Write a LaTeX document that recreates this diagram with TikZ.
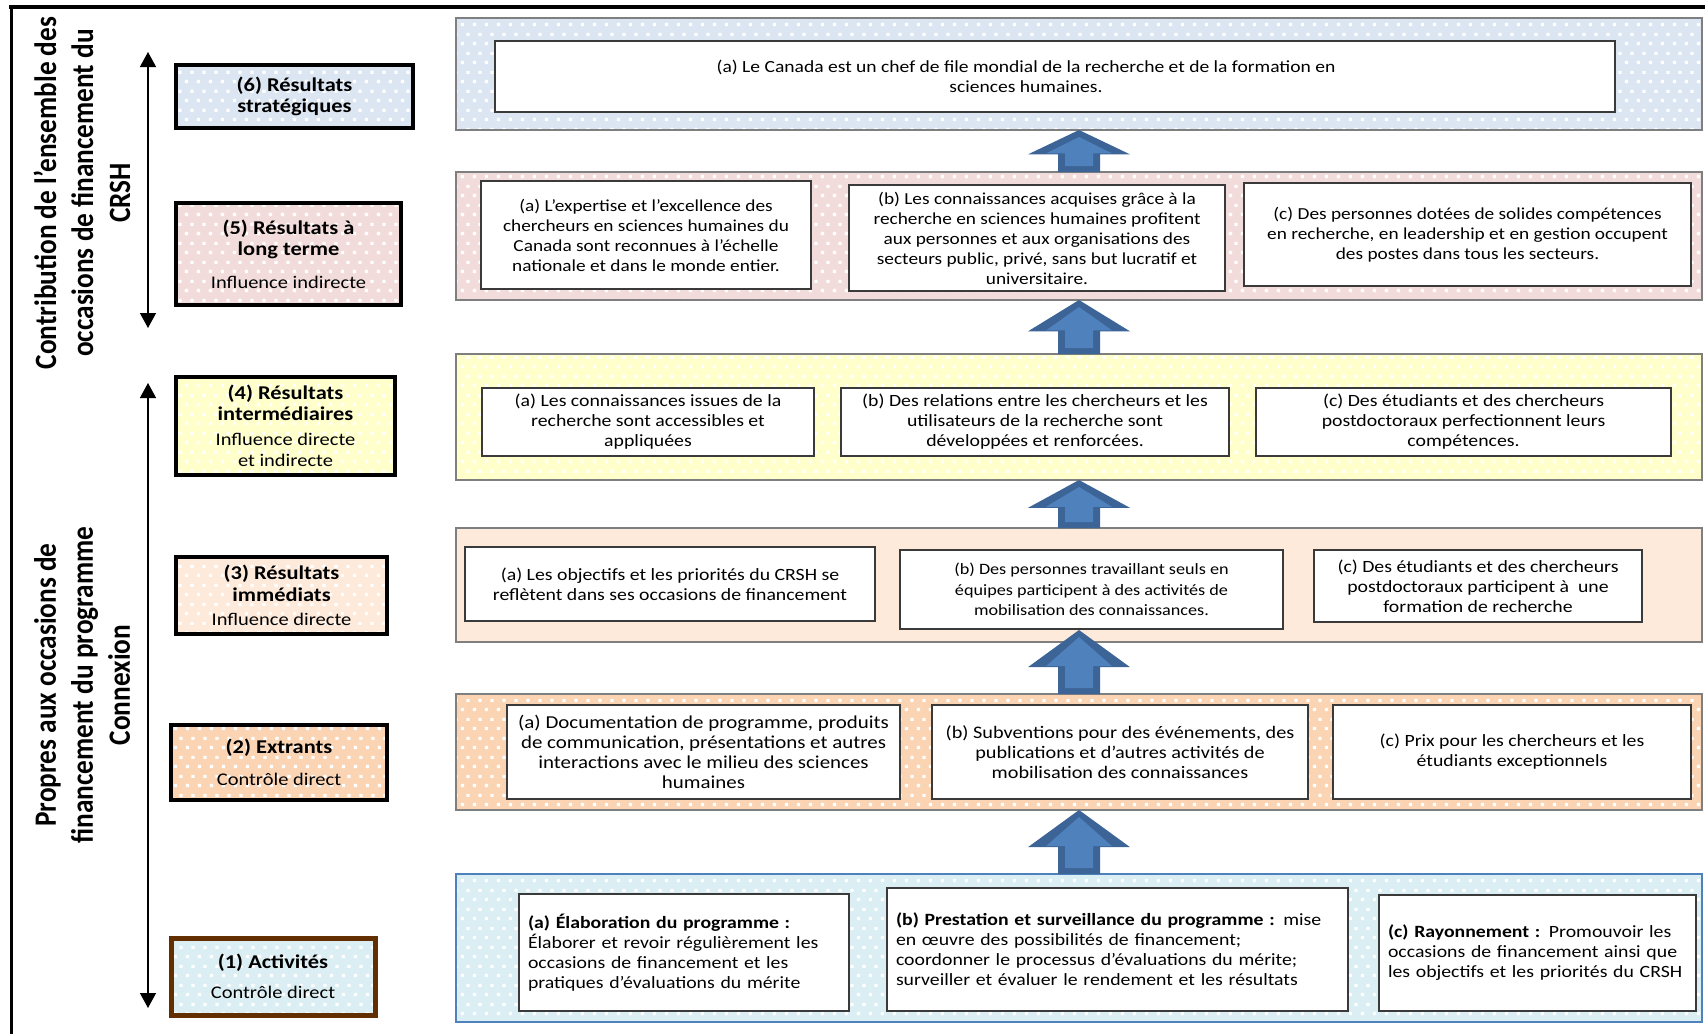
\documentclass[tikz,border=0pt]{standalone}
\usepackage{fontspec}
\setmainfont{Carlito}
\newfontfamily\wf{Carlito}[FakeStretch=1.15]
\newfontfamily\tf{Carlito}[FakeStretch=0.88]
\usetikzlibrary{calc,arrows.meta,patterns}

\pgfdeclarepatternformonly{sqdots}{\pgfpointorigin}{\pgfpoint{11.5pt}{19pt}}{\pgfpoint{11.5pt}{19pt}}{%
  \pgfpathrectangle{\pgfpoint{1pt}{1pt}}{\pgfpoint{3.3pt}{3.3pt}}%
  \pgfpathrectangle{\pgfpoint{6.75pt}{10.5pt}}{\pgfpoint{3.3pt}{3.3pt}}%
  \pgfusepath{fill}}

\definecolor{c6}{HTML}{DCE6F2}
\definecolor{c5}{HTML}{F2DCDB}
\definecolor{c4}{HTML}{FFFFCC}
\definecolor{c3}{HTML}{FDEADA}
\definecolor{c2}{HTML}{FBD4B4}
\definecolor{c1}{HTML}{DAEEF3}
\definecolor{bandline}{HTML}{7F7F7F}
\definecolor{actline}{HTML}{4F81BD}
\definecolor{brownline}{HTML}{632F00}
\definecolor{arrdark}{HTML}{3C6496}
\definecolor{arrlight}{HTML}{4F81BD}
\definecolor{boxline}{HTML}{3A3A3A}

\newcommand\blockarrow[3]{%
  \fill[arrdark] let \p1=(#1.north), \p2=(#2.south), \n1={\y2+#3pt-\y1}, \n2={\y1+0.42*\n1}, \n3={\y1+\n1} in
    (\x1-21pt,\y1) -- (\x1-21pt,\n2) -- (\x1-51pt,\n2) -- (\x1,\n3) -- (\x1+51pt,\n2) -- (\x1+21pt,\n2) -- (\x1+21pt,\y1) -- cycle;
  \fill[arrlight] let \p1=(#1.north), \p2=(#2.south), \n1={\y2+#3pt-\y1}, \n2={\y1+0.42*\n1}, \n3={\y1+\n1} in
    (\x1-14pt,\y1+6pt) -- (\x1-14pt,\n2+1pt) -- (\x1-33pt,\n2+1pt) -- (\x1,\n3-7pt) -- (\x1+33pt,\n2+1pt) -- (\x1+14pt,\n2+1pt) -- (\x1+14pt,\y1+6pt) -- cycle;
}

\tikzset{
  dotfill/.style={preaction={fill=#1}, preaction={pattern=sqdots, pattern color=white}},
  band/.style={draw=bandline, line width=1.3pt, inner sep=0pt, outer sep=0pt, anchor=north west, minimum width=1246pt},
  lbox/.style={draw=black, line width=4.5pt, inner sep=0pt, outer sep=0pt, anchor=north west, align=center,
               font=\wf\fontsize{19.5}{21.5}\selectfont},
  tbox/.style={draw=boxline, fill=white, line width=1.1pt, inner sep=0pt, outer sep=0pt, align=center,
               font=\wf\fontsize{17.2}{20}\selectfont},
  lbtext/.style={tbox, align=left},
  plaintext/.style={inner sep=0pt, align=center, font=\wf\fontsize{17}{19.6}\selectfont},
  vtitle/.style={rotate=90, align=center, font=\tf\bfseries\fontsize{31}{37}\selectfont},
  vaxis/.style={line width=1.3pt, {Triangle[width=16pt,length=15pt]}-{Triangle[width=16pt,length=15pt]}},
}
\newcommand\sm[1]{{\fontsize{17.8}{20}\selectfont #1}}

\begin{document}
\begin{tikzpicture}[x=1pt,y=-1pt]
\useasboundingbox (0,0) rectangle (1705,1034);

% frame
\draw[line width=4.5pt] (9,7) -- (1705,7);
\draw[line width=3pt] (11,5) -- (11,1034);

% vertical titles
\node[vtitle] (title1) at (82,193) {Contribution de l’ensemble des\\occasions de financement du\\CRSH};
\node[vtitle] (title2) at (82,685) {Propres aux occasions de\\financement du programme\\Connexion};

% vertical double arrows
\coordinate (ax1t) at (148,52);
\coordinate (ax1b) at (148,328);
\coordinate (ax2t) at (148,383);
\coordinate (ax2b) at (148,1008);
\draw[vaxis] (ax1t) -- (ax1b);
\draw[vaxis] (ax2t) -- (ax2b);

% left level boxes
\node[lbox, dotfill=c6, minimum width=237pt, minimum height=63pt] (l6) at (176,65)
  {\textbf{(6) Résultats}\\\textbf{stratégiques}};
\node[lbox, dotfill=c5, minimum width=225pt, minimum height=102pt] (l5) at (176,203)
  {\textbf{(5) Résultats à}\\\textbf{long terme}\\[11pt]\sm{Influence indirecte}};
\node[lbox, dotfill=c4, minimum width=219pt, minimum height=98pt] (l4) at (176,377)
  {\textbf{(4) Résultats}\\\textbf{intermédiaires}\\[3pt]\sm{Influence directe}\\\sm{et indirecte}};
\node[lbox, dotfill=c3, minimum width=211pt, minimum height=77pt] (l3) at (176,557)
  {\textbf{(3) Résultats}\\\textbf{immédiats}\\[3pt]\sm{Influence directe}};
\node[lbox, dotfill=c2, minimum width=216pt, minimum height=75pt] (l2) at (171,725)
  {\textbf{(2) Extrants}\\[10pt]\sm{Contrôle direct}};
\node[lbox, draw=brownline, line width=5pt, dotfill=c1, minimum width=204pt, minimum height=77pt] (l1) at (171,938)
  {\textbf{(1) Activités}\\[8pt]\sm{Contrôle direct}};

% bands
\node[band, dotfill=c6, minimum height=112pt] (b6) at (456,18) {};
\node[band, dotfill=c5, minimum height=128pt] (b5) at (456,172) {};
\node[band, dotfill=c4, minimum height=126pt] (b4) at (456,354) {};
\node[band, fill=c3, minimum height=114pt] (b3) at (456,528) {};
\node[band, dotfill=c2, minimum height=116pt] (b2) at (456,694) {};
\node[band, draw=actline, line width=2pt, dotfill=c1, minimum height=148pt] (b1) at (456,874) {};

% block arrows between levels
\blockarrow{b5}{b6}{0}
\blockarrow{b4}{b5}{0}
\blockarrow{b3}{b4}{0}
\blockarrow{b2}{b3}{12}
\blockarrow{b1}{b2}{0}

% level 6
\node[tbox, minimum width=1120pt, minimum height=71pt] (t6a) at (1055,76.5) {};
\node[plaintext] (t6text) at (1026,76.5)
  {(a) Le Canada est un chef de file mondial de la recherche et de la formation en\\sciences humaines.};

% level 5
\node[tbox, minimum width=330pt, minimum height=108pt, font=\wf\fontsize{16.8}{20}\selectfont] (t5a) at (646,235)
  {(a) L’expertise et l’excellence des\\chercheurs en sciences humaines du\\Canada sont reconnues à l’échelle\\nationale et dans le monde entier.};
\node[tbox, minimum width=376pt, minimum height=106pt, font=\wf\fontsize{16.8}{20}\selectfont] (t5b) at (1037,238)
  {(b) Les connaissances acquises grâce à la\\recherche en sciences humaines profitent\\aux personnes et aux organisations des\\secteurs public, privé, sans but lucratif et\\universitaire.};
\node[tbox, minimum width=447pt, minimum height=103pt, font=\wf\fontsize{16.8}{20}\selectfont] (t5c) at (1467.5,234.5)
  {(c) Des personnes dotées de solides compétences\\en recherche, en leadership et en gestion occupent\\des postes dans tous les secteurs.};

% level 4
\node[tbox, minimum width=332pt, minimum height=68pt] (t4a) at (648,422)
  {(a) Les connaissances issues de la\\recherche sont accessibles et\\appliquées};
\node[tbox, minimum width=388pt, minimum height=68pt] (t4b) at (1035,422)
  {(b) Des relations entre les chercheurs et les\\utilisateurs de la recherche sont\\développées et renforcées.};
\node[tbox, minimum width=415pt, minimum height=68pt] (t4c) at (1463.5,422)
  {(c) Des étudiants et des chercheurs\\postdoctoraux perfectionnent leurs\\compétences.};

% level 3
\node[tbox, minimum width=410pt, minimum height=74pt] (t3a) at (670,584)
  {(a) Les objectifs et les priorités du CRSH se\\reflètent dans ses occasions de financement};
\node[tbox, minimum width=383pt, minimum height=79pt, font=\wf\fontsize{15.8}{20.5}\selectfont] (t3b) at (1091.5,589.5)
  {(b) Des personnes travaillant seuls en\\équipes participent à des activités de\\mobilisation des connaissances.};
\node[tbox, minimum width=328pt, minimum height=72pt] (t3c) at (1478,586)
  {(c) Des étudiants et des chercheurs\\postdoctoraux participent à\ \ une\\formation de recherche};

% level 2
\node[tbox, minimum width=393pt, minimum height=94pt, font=\wf\fontsize{18.2}{20}\selectfont] (t2a) at (703.5,752)
  {(a) Documentation de programme, produits\\de communication, présentations et autres\\interactions avec le milieu des sciences\\humaines};
\node[tbox, minimum width=376pt, minimum height=94pt, font=\wf\fontsize{17.6}{20}\selectfont] (t2b) at (1120,752)
  {(b) Subventions pour des événements, des\\publications et d’autres activités de\\mobilisation des connaissances};
\node[tbox, minimum width=358pt, minimum height=94pt] (t2c) at (1512,752)
  {(c) Prix pour les chercheurs et les\\étudiants exceptionnels};

% level 1
\node[lbtext, minimum width=330pt, minimum height=117pt, text width=312pt] (t1a) at (684,952.5)
  {\textbf{(a) Élaboration du programme :}\\Élaborer et revoir régulièrement les\\occasions de financement et les\\pratiques d’évaluations du mérite};
\node[lbtext, minimum width=461pt, minimum height=123pt, text width=443pt] (t1b) at (1117.5,949.5)
  {\textbf{(b) Prestation et surveillance du programme :} mise\\en œuvre des possibilités de financement;\\coordonner le processus d’évaluations du mérite;\\surveiller et évaluer le rendement et les résultats};
\node[lbtext, minimum width=317pt, minimum height=116pt, text width=299pt] (t1c) at (1537.5,953)
  {\textbf{(c) Rayonnement :} Promouvoir les\\occasions de financement ainsi que\\les objectifs et les priorités du CRSH};
\end{tikzpicture}
\end{document}
